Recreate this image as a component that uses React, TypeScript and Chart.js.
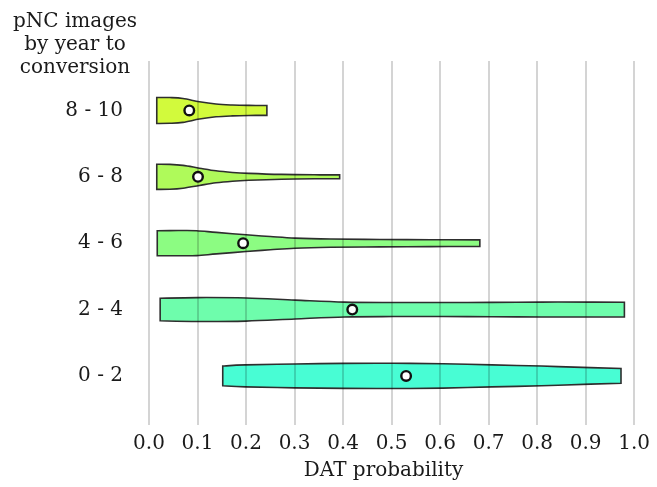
import React, { useEffect, useRef } from 'react';
import { Chart, registerables } from 'chart.js';

Chart.register(...registerables);

// rows, bottom to top
const groupLabels = ['0 - 2', '2 - 4', '4 - 6', '6 - 8', '8 - 10'];
const groupColors = ['#48fdd4', '#6efdac', '#8cfc82', '#affa5a', '#d2fa3c'];

// violin outlines: DAT probability and relative half width (1 = widest)
const grid02 = [0.152, 0.199, 0.301, 0.402, 0.504, 0.606, 0.707, 0.809, 0.91, 0.973];
const dens02 = [0.74, 0.83, 0.9, 0.94, 0.95, 0.92, 0.83, 0.74, 0.62, 0.56];

const grid24 = [0.023, 0.1, 0.2, 0.301, 0.403, 0.504, 0.606, 0.707, 0.809, 0.91, 0.98];
const dens24 = [0.85, 0.9, 0.87, 0.71, 0.56, 0.53, 0.53, 0.54, 0.56, 0.56, 0.55];

const grid46 = [0.017, 0.06, 0.098, 0.139, 0.2, 0.25, 0.301, 0.375, 0.476, 0.58, 0.682];
const dens46 = [0.94, 0.95, 0.94, 0.81, 0.63, 0.5, 0.38, 0.31, 0.28, 0.26, 0.25];

const grid68 = [0.016, 0.043, 0.07, 0.104, 0.138, 0.172, 0.206, 0.273, 0.341, 0.393];
const dens68 = [0.95, 0.94, 0.86, 0.65, 0.45, 0.33, 0.26, 0.18, 0.15, 0.15];

const grid810 = [0.016, 0.043, 0.07, 0.104, 0.138, 0.172, 0.206, 0.243];
const dens810 = [0.98, 0.97, 0.9, 0.65, 0.48, 0.41, 0.38, 0.37];

const medians = [0.53, 0.419, 0.194, 0.101, 0.083];

const xTicks = [0, 1, 2, 3, 4, 5, 6, 7, 8, 9, 10].map(i => i / 10);
const titleLines = ['pNC images', 'by year to', 'conversion'];

const violinGrids = [grid02, grid24, grid46, grid68, grid810];
const violinDens = [dens02, dens24, dens46, dens68, dens810];

const HALF = 0.2; // half of the violin width, in row units
const FONT = "'DejaVu Serif', serif";
const SIZE = 20;

type P = [number, number];

function spline(ctx: CanvasRenderingContext2D, pts: P[]) {
  for (let i = 0; i < pts.length - 1; i++) {
    const p0 = pts[i - 1] || pts[i];
    const p1 = pts[i];
    const p2 = pts[i + 1];
    const p3 = pts[i + 2] || p2;
    ctx.bezierCurveTo(
      p1[0] + (p2[0] - p0[0]) / 6, p1[1] + (p2[1] - p0[1]) / 6,
      p2[0] - (p3[0] - p1[0]) / 6, p2[1] - (p3[1] - p1[1]) / 6,
      p2[0], p2[1]
    );
  }
}

const violinPlugin = {
  id: 'violins',
  beforeDraw(chart: any) {
    const { ctx, scales } = chart;
    const xs = scales.x;
    const ys = scales.y;
    ctx.save();
    violinGrids.forEach((g, row) => {
      const d = violinDens[row];
      const top: P[] = g.map((v, i) => [xs.getPixelForValue(v), ys.getPixelForValue(row + d[i] * HALF)]);
      const bot: P[] = g.map((v, i) => [xs.getPixelForValue(v), ys.getPixelForValue(row - d[i] * HALF)]).reverse();
      ctx.beginPath();
      ctx.moveTo(top[0][0], top[0][1]);
      spline(ctx, top);
      ctx.lineTo(bot[0][0], bot[0][1]);
      spline(ctx, bot);
      ctx.closePath();
      ctx.fillStyle = groupColors[row];
      ctx.fill();
      ctx.lineWidth = 1.6;
      ctx.strokeStyle = '#2e2e2e';
      ctx.stroke();
    });
    ctx.restore();
  },
  afterDraw(chart: any) {
    const { ctx } = chart;
    ctx.save();
    ctx.font = `${SIZE}px ${FONT}`;
    ctx.fillStyle = '#1a1a1a';
    ctx.textAlign = 'center';
    ctx.textBaseline = 'alphabetic';
    titleLines.forEach((t, i) => ctx.fillText(t, 75, 27 + i * 23));
    ctx.restore();
  }
};

export default function App() {
  const canvasRef = useRef<HTMLCanvasElement>(null);
  const chartRef = useRef<Chart | null>(null);

  useEffect(() => {
    if (!canvasRef.current) return;

    chartRef.current = new Chart(canvasRef.current, {
      type: 'scatter',
      data: {
        datasets: [
          {
            label: 'median',
            data: medians.map((m, i) => ({ x: m, y: i })),
            pointRadius: 4.8,
            pointBorderWidth: 2.4,
            pointBackgroundColor: '#ffffff',
            pointBorderColor: '#111111'
          }
        ]
      },
      options: {
        responsive: false,
        animation: false,
        layout: { padding: { top: 61, left: 0, right: 0, bottom: 0 } },
        plugins: {
          legend: { display: false },
          tooltip: { enabled: false }
        },
        scales: {
          x: {
            type: 'linear',
            min: -0.033,
            max: 1.0,
            afterBuildTicks: (axis: any) => {
              axis.ticks = xTicks.map(v => ({ value: v }));
            },
            afterFit: (axis: any) => {
              axis.height = 62;
            },
            grid: { color: 'rgba(0,0,0,0.17)', lineWidth: 2, drawTicks: false },
            border: { display: false },
            ticks: {
              padding: 7,
              color: '#1a1a1a',
              font: { family: FONT, size: SIZE },
              callback: (v: any) => Number(v).toFixed(1)
            },
            title: {
              display: true,
              text: 'DAT probability',
              color: '#1a1a1a',
              font: { family: FONT, size: SIZE },
              padding: { top: 4, bottom: 4 }
            }
          },
          y: {
            type: 'linear',
            min: -0.74,
            max: 4.745,
            afterBuildTicks: (axis: any) => {
              axis.ticks = groupLabels.map((_, i) => ({ value: i }));
            },
            afterFit: (axis: any) => {
              axis.width = 133;
            },
            grid: { display: false, drawTicks: false },
            border: { display: false },
            ticks: {
              padding: 10,
              color: '#1a1a1a',
              font: { family: FONT, size: SIZE },
              callback: (v: any) => groupLabels[v] ?? ''
            }
          }
        }
      },
      plugins: [violinPlugin]
    });

    return () => {
      if (chartRef.current) {
        chartRef.current.destroy();
      }
    };
  }, []);

  return (
    <div style={{ position: 'fixed', left: 0, top: 0, width: 657, height: 487, background: '#fff' }}>
      <canvas ref={canvasRef} width={657} height={487} style={{ display: 'block' }} />
    </div>
  );
}
